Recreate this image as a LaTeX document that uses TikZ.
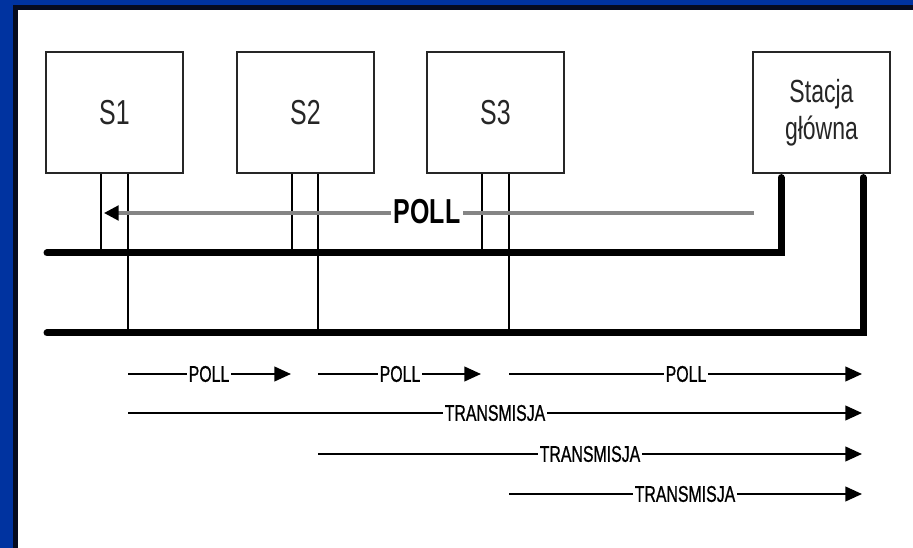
\documentclass[tikz,border=0pt]{standalone}
\usepackage{fontspec}
\setmainfont{Liberation Sans}
\newfontfamily\narrowfont[FakeStretch=0.72]{Liberation Sans}
\newfontfamily\labelfont[FakeStretch=0.70,FakeBold=0.8]{Liberation Sans}
\usetikzlibrary{arrows.meta}
\definecolor{frameblue}{HTML}{0033A0}
\definecolor{framedark}{HTML}{060B1F}
\definecolor{polgray}{HTML}{858585}
\begin{document}
\begin{tikzpicture}[x=0.75pt,y=-0.75pt,
  stationbox/.style={draw=black!85, line width=1.7pt, minimum width=102.75pt, minimum height=90.75pt,
    inner sep=0pt, align=center, text=black!85, font=\narrowfont\fontsize{26}{27.75}\selectfont},
  bus/.style={line width=5.25pt, line cap=round},
  tap/.style={line width=1.4pt},
  flow/.style={line width=1.5pt, -{Triangle[length=12.5pt,width=11pt]}},
  lab/.style={fill=white, inner xsep=1pt, inner ysep=0pt, font=\labelfont\fontsize{17}{17}\selectfont},
  biglab/.style={fill=white, inner xsep=2pt, inner ysep=0pt, font=\narrowfont\bfseries\fontsize{26}{26}\selectfont}
]
\useasboundingbox (0,0) rectangle (913,548);
% frame (left and top only)
\fill[white] (-5,-5) rectangle (930,565);
\fill[frameblue] (0,0) rectangle (920,5);
\fill[frameblue] (0,0) rectangle (13,560);
\fill[framedark] (13,5) rectangle (920,10);
\fill[framedark] (13,5) rectangle (18,560);

% stations
\node[stationbox] (S1) at (114.5,112.5) {S1};
\node[stationbox] (S2) at (305.5,112.5) {S2};
\node[stationbox] (S3) at (495.5,112.5) {S3};
\node[stationbox, font=\narrowfont\fontsize{24}{27.75}\selectfont] (SG) at (821.5,112.5) {Stacja\\główna};

% bus coordinates
\coordinate (b1L) at (47,253);
\coordinate (b1R) at (781,253);
\coordinate (b2L) at (47,333);
\coordinate (b2R) at (863,333);

% taps
\coordinate (t1a) at (101,253); \coordinate (t1b) at (128,333);
\coordinate (t2a) at (292,253); \coordinate (t2b) at (318,333);
\coordinate (t3a) at (482,253); \coordinate (t3b) at (509,333);
\draw[tap] (S1.south -| t1a) -- (t1a);
\draw[tap] (S1.south -| t1b) -- (t1b);
\draw[tap] (S2.south -| t2a) -- (t2a);
\draw[tap] (S2.south -| t2b) -- (t2b);
\draw[tap] (S3.south -| t3a) -- (t3a);
\draw[tap] (S3.south -| t3b) -- (t3b);

% buses
\draw[bus] (b1L) -- (b1R) -- ([yshift=-2.6pt]SG.south -| b1R);
\draw[bus] (b2L) -- (b2R) -- ([yshift=-2.6pt]SG.south -| b2R);

% poll along bus
\coordinate (pS) at (754,213);
\coordinate (pE) at (104,213);
\draw[polgray, line width=2.3pt, -{Triangle[length=11pt,width=11pt,color=black]}] (pS) -- (pE);
\node[biglab] (pollbig) at (427,212) {POLL};

% timeline arrows
\coordinate (r1a) at (128,374); \coordinate (r1b) at (291,374);
\coordinate (r1c) at (318,374); \coordinate (r1d) at (481,374);
\coordinate (r1e) at (509,374); \coordinate (r1f) at (862,374);
\draw[flow] (r1a) -- (r1b);
\draw[flow] (r1c) -- (r1d);
\draw[flow] (r1e) -- (r1f);
\node[lab] (l1) at (209,374) {POLL};
\node[lab] (l2) at (400,374) {POLL};
\node[lab] (l3) at (686,374) {POLL};

\coordinate (r2a) at (128,413); \coordinate (r2b) at (862,413);
\coordinate (r3a) at (318,454); \coordinate (r3b) at (862,454);
\coordinate (r4a) at (509,494); \coordinate (r4b) at (862,494);
\draw[flow] (r2a) -- (r2b);
\draw[flow] (r3a) -- (r3b);
\draw[flow] (r4a) -- (r4b);
\node[lab] (t1) at (495,413) {TRANSMISJA};
\node[lab] (t2) at (590,454) {TRANSMISJA};
\node[lab] (t3) at (685,494) {TRANSMISJA};
\end{tikzpicture}
\end{document}
